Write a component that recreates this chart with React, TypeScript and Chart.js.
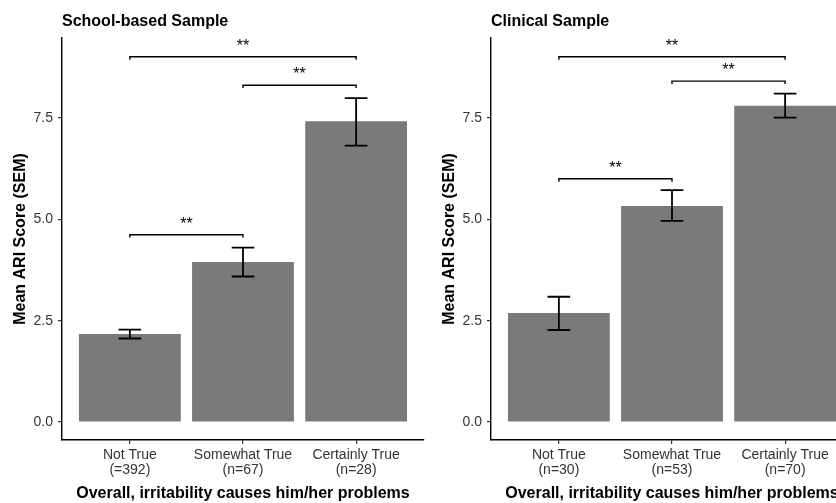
import React, { useEffect, useRef } from "react";
import { Chart, registerables } from "chart.js";

Chart.register(...registerables);

// ---------- data ----------
const schoolTitle = "School-based Sample";
const clinicalTitle = "Clinical Sample";
const yAxisTitle = "Mean ARI Score (SEM)";
const xAxisTitle = "Overall, irritability causes him/her problems";

const categoryNames = ["Not True", "Somewhat True", "Certainly True"];
const schoolCounts = ["(=392)", "(n=67)", "(n=28)"];
const clinicalCounts = ["(n=30)", "(n=53)", "(n=70)"];

const schoolMeans = [2.17, 3.95, 7.42];
const schoolLow = [2.06, 3.59, 6.82];
const schoolHigh = [2.28, 4.3, 7.99];

const clinicalMeans = [2.69, 5.33, 7.8];
const clinicalLow = [2.27, 4.96, 7.51];
const clinicalHigh = [3.09, 5.72, 8.1];

const schoolBracketFrom = [1, 2, 1];
const schoolBracketTo = [3, 3, 2];
const schoolBracketY = [9.01, 8.31, 4.62];
const schoolBracketLabel = ["**", "**", "**"];

const clinicalBracketFrom = [1, 2, 1];
const clinicalBracketTo = [3, 3, 2];
const clinicalBracketY = [9.01, 8.41, 6.0];
const clinicalBracketLabel = ["**", "**", "**"];

const yTicks = [0, 2.5, 5, 7.5];
const yMin = -0.444;
const yMax = 9.474;
const xMin = 0.4;
const xMax = 3.6;

const FONT = "'Liberation Sans', Arial, Helvetica, sans-serif";
const BAR_COLOR = "#7a7a7a";
const TEXT_COLOR = "#333333";

type PanelProps = {
  title: string;
  counts: string[];
  means: number[];
  low: number[];
  high: number[];
  bFrom: number[];
  bTo: number[];
  bY: number[];
  bLabel: string[];
};

function Panel(props: PanelProps) {
  const ref = useRef<HTMLCanvasElement | null>(null);

  useEffect(() => {
    if (!ref.current) return;
    const { title, counts, means, low, high, bFrom, bTo, bY, bLabel } = props;

    const annot = {
      id: "annot",
      afterDatasetsDraw(chart: any) {
        const { ctx } = chart;
        const x = chart.scales.x;
        const y = chart.scales.y;
        ctx.save();
        // error bars
        ctx.strokeStyle = "#000";
        ctx.lineWidth = 1.8;
        for (let i = 0; i < low.length; i++) {
          const xc = x.getPixelForValue(i + 1);
          const xl = x.getPixelForValue(i + 1 - 0.1);
          const xr = x.getPixelForValue(i + 1 + 0.1);
          const yl = y.getPixelForValue(low[i]);
          const yh = y.getPixelForValue(high[i]);
          ctx.beginPath();
          ctx.moveTo(xl, yh);
          ctx.lineTo(xr, yh);
          ctx.moveTo(xc, yh);
          ctx.lineTo(xc, yl);
          ctx.moveTo(xl, yl);
          ctx.lineTo(xr, yl);
          ctx.stroke();
        }
        // significance brackets
        ctx.lineWidth = 1.4;
        ctx.fillStyle = "#000";
        ctx.font = `16px ${FONT}`;
        ctx.textAlign = "center";
        ctx.textBaseline = "alphabetic";
        for (let i = 0; i < bY.length; i++) {
          const x1 = x.getPixelForValue(bFrom[i]);
          const x2 = x.getPixelForValue(bTo[i]);
          const yy = y.getPixelForValue(bY[i]);
          const yt = y.getPixelForValue(bY[i] - 0.07);
          ctx.beginPath();
          ctx.moveTo(x1, yt);
          ctx.lineTo(x1, yy);
          ctx.lineTo(x2, yy);
          ctx.lineTo(x2, yt);
          ctx.stroke();
          ctx.fillText(bLabel[i], (x1 + x2) / 2, yy - 6);
        }
        ctx.restore();
      },
      afterDraw(chart: any) {
        const { ctx, chartArea } = chart;
        ctx.save();
        ctx.fillStyle = "#000";
        ctx.font = `bold 16px ${FONT}`;
        ctx.textAlign = "left";
        ctx.textBaseline = "alphabetic";
        ctx.fillText(title, chartArea.left, 26);
        ctx.restore();
      },
    };

    const chart = new Chart(ref.current, {
      type: "bar",
      data: {
        datasets: [
          {
            data: means.map((m, i) => ({ x: i + 1, y: m })),
            backgroundColor: BAR_COLOR,
            borderWidth: 0,
            categoryPercentage: 0.9,
            barPercentage: 1.0,
          },
        ],
      },
      options: {
        responsive: false,
        animation: false,
        layout: { padding: { left: 0, top: 38, right: 5, bottom: 0 } },
        plugins: {
          legend: { display: false },
          title: { display: false },
          tooltip: { enabled: false },
        },
        scales: {
          x: {
            type: "linear",
            offset: false,
            min: xMin,
            max: xMax,
            afterBuildTicks(scale: any) {
              scale.ticks = categoryNames.map((_, i) => ({ value: i + 1 }));
            },
            afterFit(scale: any) {
              scale.height = 63;
            },
            grid: {
              display: true,
              offset: false,
              drawOnChartArea: false,
              drawTicks: true,
              tickLength: 4,
              tickColor: "#333",
              lineWidth: 1.2,
            },
            border: { display: true, color: "#000", width: 1.4 },
            ticks: {
              autoSkip: false,
              maxRotation: 0,
              padding: 4,
              color: TEXT_COLOR,
              font: { family: FONT, size: 14, lineHeight: 1.05 },
              callback: (v: any) => {
                const i = Math.round(Number(v)) - 1;
                return [categoryNames[i], counts[i]];
              },
            },
            title: {
              display: true,
              text: xAxisTitle,
              color: "#000",
              font: { family: FONT, size: 16, weight: "bold", lineHeight: 1.2 },
              padding: { top: 0, bottom: 0 },
            },
          },
          y: {
            type: "linear",
            min: yMin,
            max: yMax,
            afterBuildTicks(scale: any) {
              scale.ticks = yTicks.map((v) => ({ value: v }));
            },
            afterFit(scale: any) {
              scale.width = 62;
            },
            grid: {
              display: true,
              drawOnChartArea: false,
              drawTicks: true,
              tickLength: 4,
              tickColor: "#333",
              lineWidth: 1.2,
            },
            border: { display: true, color: "#000", width: 1.4 },
            ticks: {
              padding: 5,
              color: TEXT_COLOR,
              font: { family: FONT, size: 14 },
              callback: (v: any) => Number(v).toFixed(1),
            },
            title: {
              display: true,
              text: yAxisTitle,
              color: "#000",
              font: { family: FONT, size: 16, weight: "bold", lineHeight: 1.2 },
              padding: { top: 11, bottom: 0 },
            },
          },
        },
      } as any,
      plugins: [annot as any],
    });

    return () => chart.destroy();
  }, []);

  return (
    <canvas
      ref={ref}
      width={429}
      height={503}
      style={{ width: 429, height: 503, display: "block" }}
    />
  );
}

export default function App() {
  return (
    <div
      style={{
        position: "fixed",
        left: 0,
        top: 0,
        width: 836,
        height: 503,
        overflow: "hidden",
        background: "#fff",
      }}
    >
      <div style={{ position: "absolute", left: 0, top: 0 }}>
        <Panel
          title={schoolTitle}
          counts={schoolCounts}
          means={schoolMeans}
          low={schoolLow}
          high={schoolHigh}
          bFrom={schoolBracketFrom}
          bTo={schoolBracketTo}
          bY={schoolBracketY}
          bLabel={schoolBracketLabel}
        />
      </div>
      <div style={{ position: "absolute", left: 429, top: 0 }}>
        <Panel
          title={clinicalTitle}
          counts={clinicalCounts}
          means={clinicalMeans}
          low={clinicalLow}
          high={clinicalHigh}
          bFrom={clinicalBracketFrom}
          bTo={clinicalBracketTo}
          bY={clinicalBracketY}
          bLabel={clinicalBracketLabel}
        />
      </div>
    </div>
  );
}
